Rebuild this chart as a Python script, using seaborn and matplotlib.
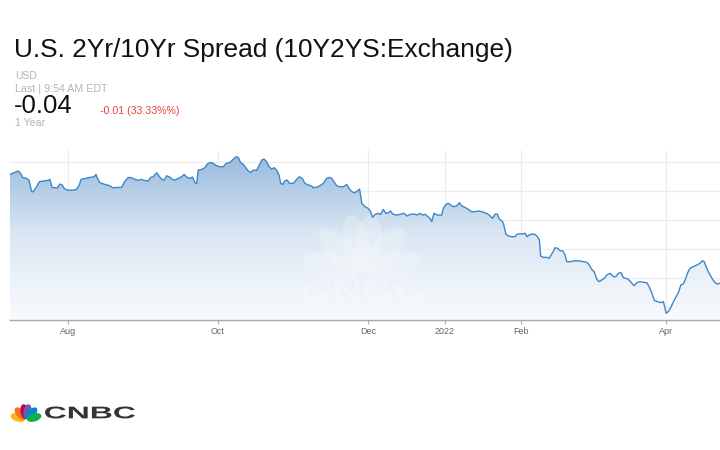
import numpy as np
import pandas as pd
import matplotlib
matplotlib.use("Agg")
import matplotlib.pyplot as plt
import matplotlib.dates as mdates
import matplotlib.transforms as mtransforms
from matplotlib.patches import Ellipse, PathPatch
from matplotlib.textpath import TextPath
from matplotlib.font_manager import FontProperties
from matplotlib.colors import LinearSegmentedColormap
import seaborn as sns

# ---------------- data ----------------
start_date = "2021-07-01"
day_offset = [7.6, 9.6, 10.9, 11.9, 12.7, 14.3, 15.3, 16.4, 17.0, 18.4, 19.5, 21.1, 23.1, 23.8, 24.7, 25.8, 26.8, 27.9, 28.8, 29.6,
              30.8, 32.6, 34.6, 35.7, 36.4, 38.4, 40.0, 41.8, 42.5, 43.2, 44.1, 46.1, 48.2, 49.3, 50.9, 52.9, 54.3, 55.6, 57.0, 58.3,
              59.7, 60.8, 62.0, 63.7, 64.7, 65.7, 67.1, 68.1, 69.2, 70.2, 71.2, 72.2, 73.5, 74.6, 75.9, 77.3, 78.3, 79.3, 80.6, 81.7,
              82.7, 83.4, 84.0, 85.4, 86.7, 87.7, 88.8, 90.1, 91.5, 92.8, 94.2, 95.3, 96.9, 98.2, 99.3, 100.3, 101.2, 102.2, 103.0, 104.3,
              105.3, 106.3, 107.7, 108.8, 109.8, 110.7, 111.8, 112.8, 113.8, 114.9, 115.8, 116.8, 117.5, 118.3, 119.2, 120.2, 121.0, 122.6, 123.7, 125.0,
              126.2, 127.3, 128.7, 130.1, 130.7, 132.3, 133.4, 134.8, 136.1, 137.2, 138.2, 139.1, 140.2, 141.5, 142.9, 144.3, 145.2, 146.3, 147.6, 149.0,
              149.5, 150.4, 151.7, 153.0, 154.0, 154.8, 155.8, 157.1, 158.1, 159.1, 160.2, 161.2, 162.1, 162.9, 164.3, 165.9, 167.5, 168.9, 170.0, 171.6,
              172.7, 174.0, 175.1, 176.1, 177.2, 178.1, 178.8, 179.7, 181.1, 182.8, 183.5, 184.6, 185.5, 186.5, 187.5, 188.9, 190.0, 191.0, 192.3, 193.6,
              195.0, 196.4, 197.7, 199.1, 201.1, 202.4, 203.5, 204.5, 205.4, 206.2, 207.2, 207.9, 208.5, 208.9, 209.9, 211.3, 212.6, 213.3, 214.6, 216.0,
              216.7, 217.4, 218.3, 219.4, 220.7, 221.7, 222.5, 223.0, 224.1, 225.5, 226.5, 227.2, 228.1, 228.8, 229.8, 230.9, 232.0, 232.9, 233.6, 234.9,
              237.0, 239.0, 240.3, 241.7, 242.8, 243.7, 244.7, 245.8, 246.7, 247.8, 248.9, 249.8, 251.2, 252.5, 253.5, 254.5, 255.6, 256.6, 257.5, 258.6,
              260.0, 261.0, 262.0, 263.3, 264.7, 266.1, 267.0, 268.1, 269.2, 270.5, 271.8, 272.8, 273.5, 273.9, 274.8, 275.9, 276.9, 278.0, 278.9, 279.9,
              280.9, 281.9, 282.7, 283.6, 285.0, 286.4, 287.7, 288.6, 289.4, 290.4, 291.4, 292.5, 293.5, 294.5, 295.8]
spread = [1.141, 1.158, 1.170, 1.150, 1.115, 1.107, 1.092, 0.992, 0.992, 1.035, 1.078, 1.084, 1.090, 1.098, 1.029, 1.026, 1.026, 1.058, 1.049, 1.021,
          1.006, 1.004, 1.012, 1.049, 1.098, 1.107, 1.115, 1.121, 1.141, 1.101, 1.069, 1.055, 1.043, 1.026, 1.029, 1.029, 1.084, 1.115, 1.112, 1.098,
          1.090, 1.098, 1.090, 1.084, 1.115, 1.121, 1.155, 1.127, 1.098, 1.092, 1.129, 1.121, 1.098, 1.092, 1.107, 1.121, 1.141, 1.118, 1.107, 1.118,
          1.069, 1.064, 1.178, 1.184, 1.198, 1.230, 1.244, 1.236, 1.215, 1.207, 1.207, 1.236, 1.244, 1.270, 1.293, 1.287, 1.241, 1.230, 1.207, 1.170,
          1.158, 1.178, 1.176, 1.221, 1.264, 1.273, 1.250, 1.207, 1.187, 1.198, 1.178, 1.135, 1.064, 1.055, 1.086, 1.092, 1.064, 1.064, 1.092, 1.121,
          1.107, 1.064, 1.049, 1.041, 1.026, 1.032, 1.043, 1.064, 1.107, 1.115, 1.107, 1.078, 1.043, 1.035, 1.035, 1.055, 1.021, 0.992, 0.983, 1.006,
          1.015, 0.892, 0.863, 0.849, 0.820, 0.771, 0.797, 0.806, 0.797, 0.840, 0.806, 0.811, 0.826, 0.800, 0.791, 0.797, 0.806, 0.783, 0.797, 0.800,
          0.791, 0.806, 0.791, 0.797, 0.777, 0.763, 0.734, 0.806, 0.791, 0.791, 0.849, 0.883, 0.892, 0.877, 0.863, 0.869, 0.897, 0.869, 0.857, 0.840,
          0.820, 0.820, 0.826, 0.820, 0.806, 0.785, 0.763, 0.800, 0.800, 0.757, 0.742, 0.720, 0.662, 0.625, 0.611, 0.605, 0.605, 0.625, 0.630, 0.630,
          0.634, 0.605, 0.619, 0.628, 0.625, 0.605, 0.576, 0.439, 0.427, 0.427, 0.419, 0.447, 0.476, 0.510, 0.505, 0.484, 0.482, 0.447, 0.390, 0.390,
          0.398, 0.396, 0.390, 0.384, 0.361, 0.324, 0.304, 0.238, 0.218, 0.232, 0.247, 0.275, 0.290, 0.261, 0.261, 0.290, 0.295, 0.252, 0.247, 0.238,
          0.204, 0.183, 0.209, 0.218, 0.212, 0.209, 0.175, 0.123, 0.054, 0.046, 0.037, 0.046, -0.011, -0.054, -0.040, -0.003, 0.046, 0.089, 0.123, 0.189,
          0.198, 0.247, 0.295, 0.333, 0.347, 0.361, 0.376, 0.398, 0.390, 0.333, 0.290, 0.247, 0.218, 0.198, 0.204]

tick_dates = ["2021-08-01", "2021-10-01", "2021-12-01", "2022-01-01", "2022-02-01", "2022-04-01"]
tick_labels = ["Aug", "Oct", "Dec", "2022", "Feb", "Apr"]
grid_levels = [0.0, 0.25, 0.5, 0.75, 1.0, 1.25]

title = "U.S. 2Yr/10Yr Spread (10Y2YS:Exchange)"
currency = "USD"
last_time = "Last | 9:54 AM EDT"
last_value = "-0.04"
change_text = "-0.01 (33.33%%)"
period = "1 Year"

# ---------------- figure ----------------
sns.set_theme(style="white")
plt.rcParams["font.family"] = ["Liberation Sans", "DejaVu Sans"]

W, H = 720, 450
fig = plt.figure(figsize=(7.2, 4.5), dpi=100)
fig.patch.set_facecolor("white")

ax = fig.add_axes([10 / W, (H - 320) / H, 710 / W, 170 / H])
ax.set_facecolor("white")

df = pd.DataFrame({
    "date": pd.Timestamp(start_date) + pd.to_timedelta(day_offset, unit="D"),
    "spread": spread,
})

y0, y1 = -0.112, 1.351
x0 = df["date"].iloc[0]
x1 = df["date"].iloc[-1]

# gradient fill under the line
poly = ax.fill_between(df["date"], df["spread"], y0, facecolor="none", edgecolor="none")
grad = np.linspace(0, 1, 256).reshape(-1, 1)
cmap = LinearSegmentedColormap.from_list("fillgrad", ["#f9fbfe", "#dbe7f3", "#93b8dc"])
im = ax.imshow(grad, cmap=cmap, aspect="auto", origin="lower",
               extent=[mdates.date2num(x0), mdates.date2num(x1), y0, y1], zorder=1)
im.set_clip_path(poly.get_paths()[0], transform=ax.transData)

# watermark / logo helpers (display space = pixels at dpi 100)
pix = mtransforms.IdentityTransform()
feather_angles = [163, 131, 100, 80, 49, 17]


def peacock(axis, bx, by, L, Wd, gap, colors, alpha, zorder, clip):
    for ang, col in zip(feather_angles, colors):
        r = np.deg2rad(ang)
        cx = bx + (gap + L / 2) * np.cos(r)
        cy = by + (gap + L / 2) * np.sin(r)
        e = Ellipse((cx, cy), L, Wd, angle=ang, transform=pix, facecolor=col,
                    edgecolor="none", alpha=alpha, zorder=zorder)
        e.set_clip_on(clip)
        axis.add_artist(e)


def stretched_text(axis, s, left, bottom, width, height, color, alpha, zorder, clip):
    fp = FontProperties(family="Liberation Sans", weight="bold")
    tp = TextPath((0, 0), s, size=10, prop=fp)
    bb = tp.get_extents()
    tr = mtransforms.Affine2D().translate(-bb.x0, -bb.y0).scale(width / bb.width, height / bb.height).translate(left, bottom)
    p = PathPatch(tr.transform_path(tp), transform=pix, facecolor=color, edgecolor="none",
                  alpha=alpha, zorder=zorder)
    p.set_clip_on(clip)
    axis.add_artist(p)


peacock(ax, 362, H - 276, 58, 26, 4, ["white"] * 6, 0.22, 2, True)
stretched_text(ax, "CNBC", 302, H - 301, 122, 21, "white", 0.25, 2, True)

sns.lineplot(data=df, x="date", y="spread", ax=ax, color="#3f86c8", linewidth=1.0, zorder=3)

ax.set_xlim(x0, x1)
ax.set_ylim(y0, y1)
ax.set_xlabel("")
ax.set_ylabel("")

ax.set_xticks(pd.to_datetime(tick_dates))
ax.set_xticklabels(tick_labels)
ax.set_yticks(grid_levels)
ax.tick_params(axis="y", length=0, labelleft=False)
ax.tick_params(axis="x", direction="out", length=3, width=0.8, color="#b0b0b0",
               labelsize=6.5, labelcolor="#666666", pad=2, bottom=True)
ax.grid(True, color="#ececec", linewidth=0.8, zorder=0)
ax.set_axisbelow(True)
for side in ["top", "left", "right"]:
    ax.spines[side].set_visible(False)
ax.spines["bottom"].set_color("#a8a8a8")
ax.spines["bottom"].set_linewidth(1.0)
ax.spines["bottom"].set_zorder(4)

# ---------------- header texts ----------------
def ftext(x, y, s, **kw):
    fig.text(x / W, (H - y) / H, s, **kw)

ftext(14, 57, title, fontsize=18.9, color="#111111", va="baseline", ha="left")
ftext(15, 76, currency, fontsize=7.5, color="#b5b5b5", va="center", ha="left")
ftext(15, 88.5, last_time, fontsize=7.7, color="#b5b5b5", va="center", ha="left")
ftext(13.5, 106, last_value, fontsize=18.5, color="#111111", va="center", ha="left")
ftext(100, 111.5, change_text, fontsize=7.7, color="#e8413c", va="center", ha="left")
ftext(15, 122.5, period, fontsize=7.7, color="#b5b5b5", va="center", ha="left")

# ---------------- CNBC logo ----------------
peacock(fig, 26, H - 420, 15, 8.0, 1.0,
        ["#fcb711", "#f37021", "#cc004c", "#6460aa", "#0089d0", "#0db14b"], 1.0, 5, False)
stretched_text(fig, "CNBC", 45, H - 418.5, 90, 12, "#333333", 1.0, 5, False)

fig.savefig("out.png", dpi=100, facecolor="white")
